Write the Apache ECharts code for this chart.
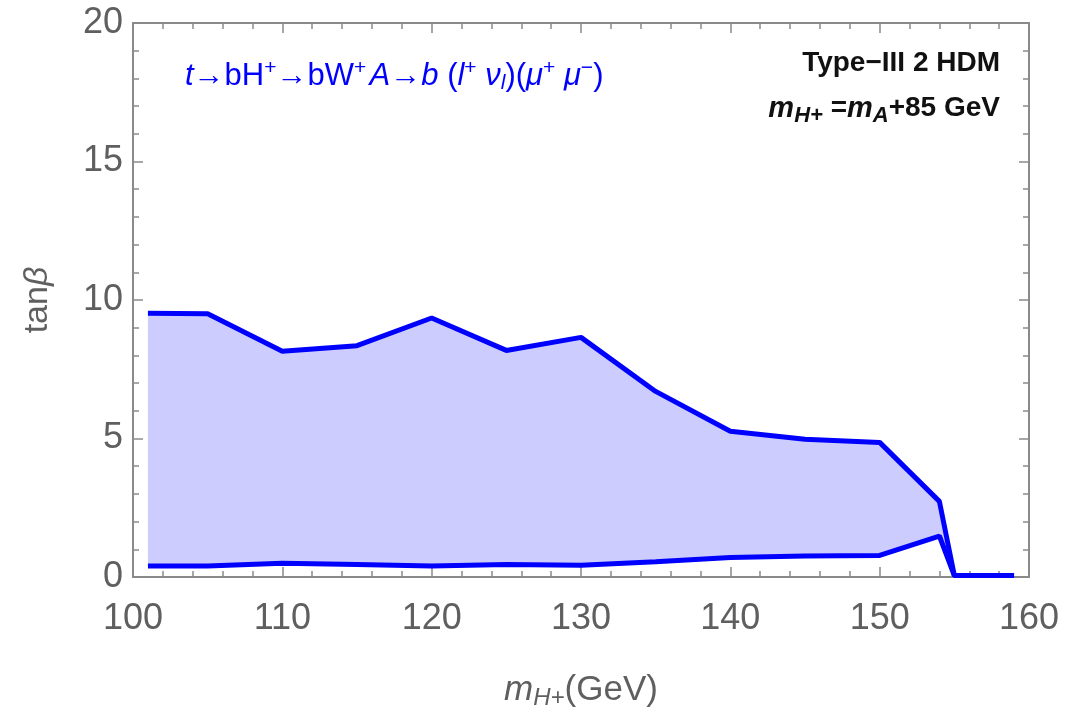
<!DOCTYPE html>
<html lang="en">
  <head>
    <meta charset="UTF-8" />
    <title>tanβ vs mH+</title>
    <style>
      html, body { margin: 0; padding: 0; background: #fff; }
      #main { width: 1078px; height: 715px; }
    </style>
  </head>
  <body>
    <div id="main"></div>
    <script src="https://cdn.jsdelivr.net/npm/echarts@6/dist/echarts.min.js"></script>
    <script>
      // 数据：带电希格斯质量 (GeV) 与 tanβ 的上下边界
      const massPoints = [101, 105, 110, 115, 120, 125, 130, 135, 140, 145, 150, 154, 155, 159];
      const upperTanB = [9.52, 9.5, 8.15, 8.35, 9.35, 8.18, 8.65, 6.7, 5.26, 4.97, 4.86, 2.73, 0.05, 0.05];
      const lowerTanB = [0.4, 0.4, 0.5, 0.45, 0.4, 0.45, 0.42, 0.55, 0.7, 0.76, 0.78, 1.48, 0.05, 0.05];
      const xTicks = [100, 110, 120, 130, 140, 150, 160];
      const yTicks = [0, 5, 10, 15, 20];

      const blue = "#0000ff";
      const frame = "#8a8a8a";
      const labelGrey = "#5f5f5f";
      const font = "Liberation Sans, Arial";

      const pairs = (ys) => massPoints.map((x, i) => [x, ys[i]]);

      const myChart = echarts.init(document.getElementById("main"));

      const tickCommon = {
        axisLine: { show: true, onZero: false, lineStyle: { color: frame, width: 2 } },
        axisTick: { show: true, inside: true, length: 10, lineStyle: { color: frame, width: 1.5 } },
        minorTick: { show: true, splitNumber: 5, length: 6, lineStyle: { color: frame, width: 1.5 } },
        splitLine: { show: false },
      };

      // 上下边界之间的填充区域（多边形）
      function renderBand(params, api) {
        if (params.dataIndex !== 0) return null;
        const pts = [];
        for (let i = 0; i < massPoints.length; i++) pts.push(api.coord([massPoints[i], upperTanB[i]]));
        for (let i = massPoints.length - 1; i >= 0; i--) pts.push(api.coord([massPoints[i], lowerTanB[i]]));
        return { type: "polygon", shape: { points: pts }, style: { fill: "#ccccff" } };
      }

      const option = {
        animation: false,
        grid: { left: 133, right: 49, top: 23, bottom: 137 },
        xAxis: [
          Object.assign({
            type: "value",
            min: xTicks[0],
            max: xTicks[xTicks.length - 1],
            interval: 10,
            position: "bottom",
            axisLabel: { color: labelGrey, fontSize: 36, margin: 24, fontFamily: font },
            name: "{i|m}{sub|H+}{n|(GeV)}",
            nameLocation: "middle",
            nameGap: 94,
            nameTextStyle: {
              color: labelGrey,
              rich: {
                i: { fontSize: 35, fontStyle: "italic", color: labelGrey, fontFamily: font },
                sub: { fontSize: 24, fontStyle: "italic", color: labelGrey, padding: [15, 0, 0, 0], fontFamily: font },
                n: { fontSize: 35, color: labelGrey, fontFamily: font },
              },
            },
          }, tickCommon),
          Object.assign({
            type: "value",
            min: xTicks[0],
            max: xTicks[xTicks.length - 1],
            interval: 10,
            position: "top",
            axisLabel: { show: false },
          }, tickCommon),
        ],
        yAxis: [
          Object.assign({
            type: "value",
            min: yTicks[0],
            max: yTicks[yTicks.length - 1],
            interval: 5,
            position: "left",
            axisLabel: { color: labelGrey, fontSize: 36, margin: 10, fontFamily: font },
            name: "{n|tan}{i|β}",
            nameLocation: "middle",
            nameGap: 78,
            nameRotate: 90,
            nameTextStyle: {
              color: labelGrey,
              rich: {
                n: { fontSize: 34, color: labelGrey, fontFamily: font },
                i: { fontSize: 34, fontStyle: "italic", color: labelGrey, fontFamily: font },
              },
            },
          }, tickCommon),
          Object.assign({
            type: "value",
            min: yTicks[0],
            max: yTicks[yTicks.length - 1],
            interval: 5,
            position: "right",
            axisLabel: { show: false },
          }, tickCommon),
        ],
        graphic: [
          {
            type: "text",
            left: 185,
            top: 58,
            style: {
              text: "{it|t}{n|→bH}{sup|+}{n|→bW}{sup|+} {it|A}{n|→}{it|b}{n| (}{it|l}{sup|+}{it| ν}{sub|l}{n|)(}{it|μ}{sup|+}{it| μ}{sup|−}{n|)}",
              fill: blue,
              rich: {
                it: { fontSize: 31, fontStyle: "italic", fill: blue, fontFamily: font },
                n: { fontSize: 31, fill: blue, fontFamily: font },
                sup: { fontSize: 21, fill: blue, padding: [0, 0, 16, 0], fontFamily: font },
                sub: { fontSize: 21, fontStyle: "italic", fill: blue, padding: [14, 0, 0, 0], fontFamily: font },
              },
            },
          },
          {
            type: "text",
            right: 78,
            top: 49,
            style: {
              text: "Type−III 2 HDM",
              fill: "#111",
              font: "bold 28px Liberation Sans, Arial",
            },
          },
          {
            type: "text",
            right: 78,
            top: 94,
            style: {
              text: "{it|m}{sub|H+}{n| =}{it|m}{sub|A}{n|+85 GeV}",
              fill: "#111",
              rich: {
                it: { fontSize: 29, fontStyle: "italic", fontWeight: "bold", fill: "#111", fontFamily: font },
                n: { fontSize: 28, fontWeight: "bold", fill: "#111", fontFamily: font },
                sub: { fontSize: 22, fontStyle: "italic", fontWeight: "bold", fill: "#111", padding: [15, 0, 0, 0], fontFamily: font },
              },
            },
          },
        ],
        series: [
          {
            name: "band",
            type: "custom",
            renderItem: renderBand,
            data: pairs(upperTanB),
            z: 1,
          },
          {
            name: "upper",
            type: "line",
            data: pairs(upperTanB),
            symbol: "none",
            lineStyle: { color: blue, width: 5 },
            z: 3,
          },
          {
            name: "lower",
            type: "line",
            data: pairs(lowerTanB),
            symbol: "none",
            lineStyle: { color: blue, width: 5 },
            z: 3,
          },
        ],
      };

      myChart.setOption(option);
    </script>
  </body>
</html>
